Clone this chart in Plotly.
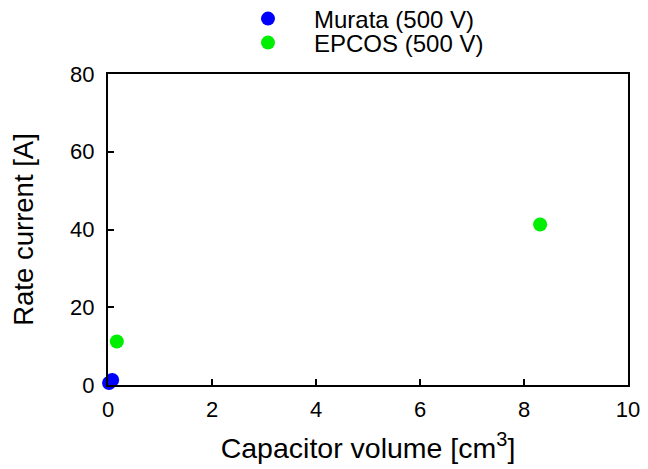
import plotly.graph_objects as go

murata_x = [0.02, 0.08]
murata_y = [0.5, 1.3]
epcos_x = [0.17, 8.31]
epcos_y = [11.2, 41.3]

x_ticks = [0, 2, 4, 6, 8, 10]
y_ticks = [0, 20, 40, 60, 80]

fig = go.Figure()
fig.add_trace(go.Scatter(x=murata_x, y=murata_y, mode="markers", name="Murata (500 V)",
                         marker=dict(color="#0000ff", size=14), cliponaxis=False,
                         legend="legend", showlegend=True))
fig.add_trace(go.Scatter(x=epcos_x, y=epcos_y, mode="markers", name="EPCOS (500 V)",
                         marker=dict(color="#00ee00", size=14), cliponaxis=False,
                         legend="legend2", showlegend=True))

axis_common = dict(showgrid=False, zeroline=False, showline=True, linecolor="black",
                   linewidth=2, mirror=True, ticks="inside", ticklen=6, tickwidth=1.5,
                   tickcolor="black", tickfont=dict(size=22, color="black"),
                   automargin=False)

plot_h = 469 - 74 - 84
leg_common = dict(x=(222 - 108) / 520, xanchor="left",
                  yanchor="middle", font=dict(size=24, color="black"),
                  bgcolor="rgba(0,0,0,0)", itemwidth=82, visible=True)

fig.update_layout(
    width=648, height=469,
    showlegend=True,
    margin=dict(l=108, r=20, t=74, b=84, autoexpand=False),
    paper_bgcolor="white", plot_bgcolor="white",
    font=dict(family="Liberation Sans, Arial, sans-serif", color="black"),
    legend=dict(y=1 + (74 - 19) / plot_h, **leg_common),
    legend2=dict(y=1 + (74 - 43) / plot_h, **leg_common),
    xaxis=dict(range=[0, 10], tickvals=x_ticks, ticklabelstandoff=4,
               title=dict(text="Capacitor volume [cm<sup>3</sup>]", font=dict(size=28.5), standoff=17),
               **axis_common),
    yaxis=dict(range=[0, 80], tickvals=y_ticks, ticklabelstandoff=7,
               title=dict(text="Rate current [A]", font=dict(size=27.5), standoff=28),
               **axis_common),
)

fig.write_html("out.html", config={"displayModeBar": False},
               post_script="document.body.style.margin='0';")
